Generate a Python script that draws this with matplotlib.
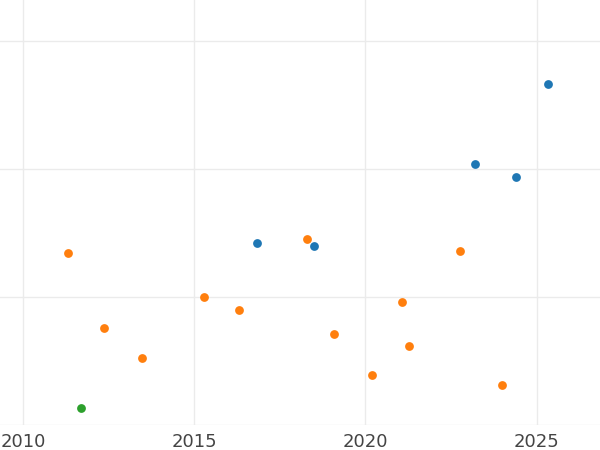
import matplotlib
matplotlib.use("Agg")
import matplotlib.pyplot as plt

blue_x = [2025.33, 2023.2, 2024.4, 2016.83, 2018.5]
blue_y = [2.66, 2.04, 1.94, 1.42, 1.40]
orange_x = [2011.32, 2018.3, 2022.76, 2015.29, 2016.31, 2021.07, 2012.37,
            2019.08, 2021.27, 2013.48, 2020.19, 2023.99]
orange_y = [1.34, 1.45, 1.36, 1.0, 0.90, 0.96, 0.76, 0.71, 0.62, 0.52, 0.39, 0.31]
green_x = [2011.7]
green_y = [0.13]
xticks = [2010, 2015, 2020, 2025]

fig = plt.figure(figsize=(6, 4.5), dpi=100)
ax = fig.add_axes([0, 25 / 450, 1, 425 / 450])
ax.scatter(blue_x, blue_y, color="#1f77b4", s=40, zorder=3, linewidths=0)
ax.scatter(orange_x, orange_y, color="#ff7f0e", s=40, zorder=3, linewidths=0)
ax.scatter(green_x, green_y, color="#2ca02c", s=40, zorder=3, linewidths=0)

ax.set_xlim(2009.33, 2026.85)
ax.set_ylim(0.0, 3.32)
ax.set_xticks(xticks)
ax.set_xticklabels([str(t) for t in xticks])
ax.set_yticks([0, 1, 2, 3])
ax.set_yticklabels([])
ax.tick_params(length=0, labelsize=13, labelcolor="#444444", pad=6)
ax.grid(True, color="#ebebeb", linewidth=1)
ax.set_axisbelow(True)
for s in ax.spines.values():
    s.set_visible(False)

plt.savefig("out.png")
